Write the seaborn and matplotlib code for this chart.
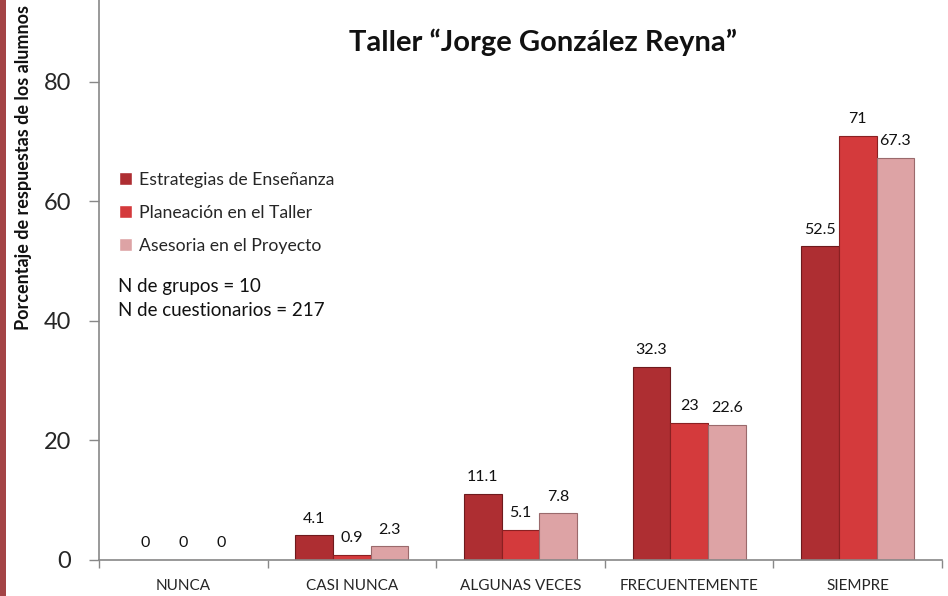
import matplotlib
matplotlib.use("Agg")
import matplotlib.pyplot as plt
import matplotlib.patches as mpatches
from matplotlib.ticker import FixedLocator
import seaborn as sns
import pandas as pd

categories = ["NUNCA", "CASI NUNCA", "ALGUNAS VECES", "FRECUENTEMENTE", "SIEMPRE"]
series_names = ["Estrategias de Enseñanza", "Planeación en el Taller", "Asesoria en el Proyecto"]
estrategias = [0, 4.1, 11.1, 32.3, 52.5]
planeacion = [0, 0.9, 5.1, 23, 71]
asesoria = [0, 2.3, 7.8, 22.6, 67.3]
label_texts = [
    ["0", "4.1", "11.1", "32.3", "52.5"],
    ["0", "0.9", "5.1", "23", "71"],
    ["0", "2.3", "7.8", "22.6", "67.3"],
]
colors = ["#AE2E32", "#D43A3C", "#DDA3A5"]
edges = ["#6E1A1D", "#8A2022", "#9A6A6C"]

rows = []
for name, vals in zip(series_names, [estrategias, planeacion, asesoria]):
    for c, v in zip(categories, vals):
        rows.append({"cat": c, "serie": name, "val": v})
df = pd.DataFrame(rows)

sns.set_theme(style="white")
plt.rcParams["font.family"] = ["Lato", "DejaVu Sans"]

W, H = 948, 596
fig = plt.figure(figsize=(W / 100, H / 100), dpi=100)
ax = fig.add_axes([99 / W, (H - 560) / H, (942 - 99) / W, 560 / H])

sns.barplot(data=df, x="cat", y="val", hue="serie", order=categories,
            hue_order=series_names, palette=colors, width=0.67, gap=0,
            saturation=1, ax=ax, legend=True)

for i, cont in enumerate(ax.containers):
    for bar in cont:
        bar.set_edgecolor(edges[i])
        bar.set_linewidth(0.8)
    ax.bar_label(cont, labels=label_texts[i], padding=7, fontsize=11.5, color="#111111")

ax.set_ylim(0, 93.7)
ax.set_xlim(-0.5, 4.5)
ax.set_yticks([0, 20, 40, 60, 80])
ax.tick_params(axis="y", labelsize=17, length=7, width=1, color="#888888", direction="out", pad=13, left=True)
ax.tick_params(axis="x", which="major", labelsize=11, length=0, pad=14)
ax.xaxis.set_minor_locator(FixedLocator([-0.5, 0.5, 1.5, 2.5, 3.5, 4.5]))
ax.tick_params(axis="x", which="minor", length=6, width=1, color="#888888", bottom=True)
ax.set_xlabel("")
ax.set_ylabel("Porcentaje de respuestas de los alumnos", fontsize=13, fontweight="bold", color="#111111")
ax.yaxis.set_label_coords((24 - 99) / 843, (560 - 168) / 560)
ax.yaxis.label.set_va("center")

for s in ["top", "right"]:
    ax.spines[s].set_visible(False)
for s in ["left", "bottom"]:
    ax.spines[s].set_color("#888888")
    ax.spines[s].set_linewidth(1.2)

fig.text(543 / W, 1 - 42 / H, "Taller “Jorge González Reyna”", fontsize=21, fontweight="bold",
         ha="center", va="center", color="#111111")

handles, labels = ax.get_legend_handles_labels()
ax.legend(handles, labels, loc="upper left", bbox_to_anchor=((112 - 99) / 843, (560 - 165) / 560),
          frameon=False, fontsize=12.7, handlelength=0.75, handleheight=0.75, handletextpad=0.4,
          labelspacing=0.95, borderaxespad=0)

fig.text(118 / W, 1 - 287 / H, "N de grupos = 10", fontsize=13.5, va="center", ha="left", color="#111111")
fig.text(118 / W, 1 - 310 / H, "N de cuestionarios = 217", fontsize=13.5, va="center", ha="left", color="#111111")

fig.patches.append(mpatches.Rectangle((0, 0), 6 / W, 1, transform=fig.transFigure,
                                      facecolor="#A44446", edgecolor="none", zorder=0))

fig.savefig("out.png", dpi=100)
